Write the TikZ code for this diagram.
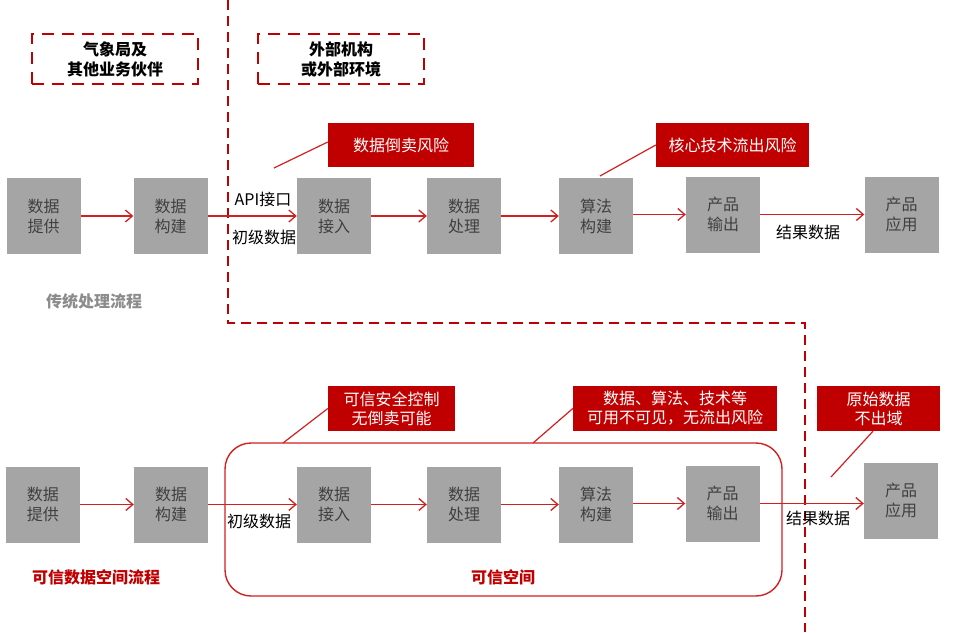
\documentclass[tikz,border=0pt]{standalone}
\usepackage{fontspec}
\setmainfont{Noto Sans CJK SC}
\usetikzlibrary{arrows.meta}
\definecolor{boxgray}{HTML}{A5A5A5}
\definecolor{boxtext}{HTML}{404040}
\definecolor{darkred}{HTML}{C00000}
\definecolor{linered}{HTML}{D02020}
\definecolor{labgray}{HTML}{8C8C8C}
\tikzset{
  stepbox/.style={fill=boxgray, minimum width=74pt, minimum height=76pt, inner sep=0pt, align=center, text=boxtext, font=\fontsize{16}{20}\selectfont},
  arr/.style={draw=linered, line width=1.3pt, -{Straight Barb[length=7pt,width=12pt,line width=1.3pt]}},
  callout/.style={fill=darkred, text=white, inner sep=0pt, align=center, font=\fontsize{16}{19}\selectfont},
  leader/.style={draw=linered, line width=1.2pt},
  lab/.style={font=\fontsize{16}{19}\selectfont, text=black, inner sep=1pt},
  dashbox/.style={draw=darkred, line width=2.6pt, dash pattern=on 12pt off 8pt, inner sep=0pt, align=center, font=\bfseries\fontsize{16}{20}\selectfont},
  divider/.style={draw=darkred, line width=2.6pt, dash pattern=on 10pt off 6pt},
  title/.style={font=\bfseries\fontsize{16}{19}\selectfont},
}
\begin{document}
\begin{tikzpicture}[x=1pt,y=-1pt]
\useasboundingbox (0,0) rectangle (969,632);
% divider
\draw[divider] (228,0) -- (228,323) -- (805,323) -- (805,632);
% dashed boxes
\node[dashbox, minimum width=166pt, minimum height=50pt] (org1) at (115,59) {气象局及\\其他业务伙伴};
\node[dashbox, minimum width=166pt, minimum height=50pt] (org2) at (341,59) {外部机构\\或外部环境};
% top row
\node[stepbox] (t1) at (43.5,216) {数据\\提供};
\node[stepbox] (t2) at (170.5,216) {数据\\构建};
\node[stepbox] (t3) at (334,216) {数据\\接入};
\node[stepbox] (t4) at (464,216) {数据\\处理};
\node[stepbox] (t5) at (596,216) {算法\\构建};
\node[stepbox] (t6) at (723,214.5) {产品\\输出};
\node[stepbox] (t7) at (901.5,214.5) {产品\\应用};
\draw[arr] (t1) -- (t2);
\draw[arr] (t2) -- (t3);
\draw[arr] (t3) -- (t4);
\draw[arr] (t4) -- (t5);
\draw[arr] (t5.east |- t6.west) -- (t6.west);
\draw[arr] (t6) -- (t7);
\node[lab] (api) at (263,199) {API接口};
\node[lab] (raw1) at (264,237) {初级数据};
\node[lab] (res1) at (808,232) {结果数据};
\node[title, text=labgray] (title1) at (94,301) {传统处理流程};
% top callouts
\node[callout, minimum width=146pt, minimum height=44pt] (c1) at (401,145) {数据倒卖风险};
\node[callout, minimum width=153pt, minimum height=44pt] (c2) at (732.5,145) {核心技术流出风险};
\coordinate (p1) at (274,168);
\coordinate (p2) at (600,176);
\draw[leader] (p1) -- (c1.west |- 0,142);
\draw[leader] (p2) -- (c2.west);
% bottom row
\node[stepbox] (b1) at (43,504.5) {数据\\提供};
\node[stepbox] (b2) at (171,504.5) {数据\\构建};
\node[stepbox] (b3) at (334,504.5) {数据\\接入};
\node[stepbox] (b4) at (464,504.5) {数据\\处理};
\node[stepbox] (b5) at (596,504.5) {算法\\构建};
\node[stepbox] (b6) at (722.5,503.5) {产品\\输出};
\node[stepbox] (b7) at (901,500.5) {产品\\应用};
% trusted space
\node[draw=linered, line width=1.4pt, rounded corners=26pt, minimum width=557pt, minimum height=153pt, inner sep=0pt] (space) at (503.5,519.5) {};
\draw[arr] (b1) -- (b2);
\draw[arr] (b2) -- (b3);
\draw[arr] (b3) -- (b4);
\draw[arr] (b4.east) -- (b5.west |- b4.east);
\draw[arr] (b5.east |- b6.west) -- (b6.west);
\draw[arr] (b6.east) -- (b7.west |- b6.east);
\node[lab] (raw2) at (259,521) {初级数据};
\node[lab] (res2) at (818,518) {结果数据};
\node[title, text=darkred] (title2) at (96,577) {可信数据空间流程};
\node[title, text=darkred] (title3) at (503,577) {可信空间};
% bottom callouts
\node[callout, minimum width=127pt, minimum height=45pt] (c3) at (391.5,408.5) {可信安全控制\\无倒卖可能};
\node[callout, minimum width=204pt, minimum height=45pt] (c4) at (675,408.5) {数据、算法、技术等\\可用不可见，无流出风险};
\node[callout, minimum width=123pt, minimum height=45pt] (c5) at (878.5,408.5) {原始数据\\不出域};
\coordinate (p3) at (283,443);
\coordinate (p4) at (533,443);
\coordinate (p5) at (831,477);
\draw[leader] (p3) -- (c3.west);
\draw[leader] (p4) -- (c4.west);
\draw[leader] (p5) -- (c5.south -| 873,0);
\end{tikzpicture}
\end{document}
